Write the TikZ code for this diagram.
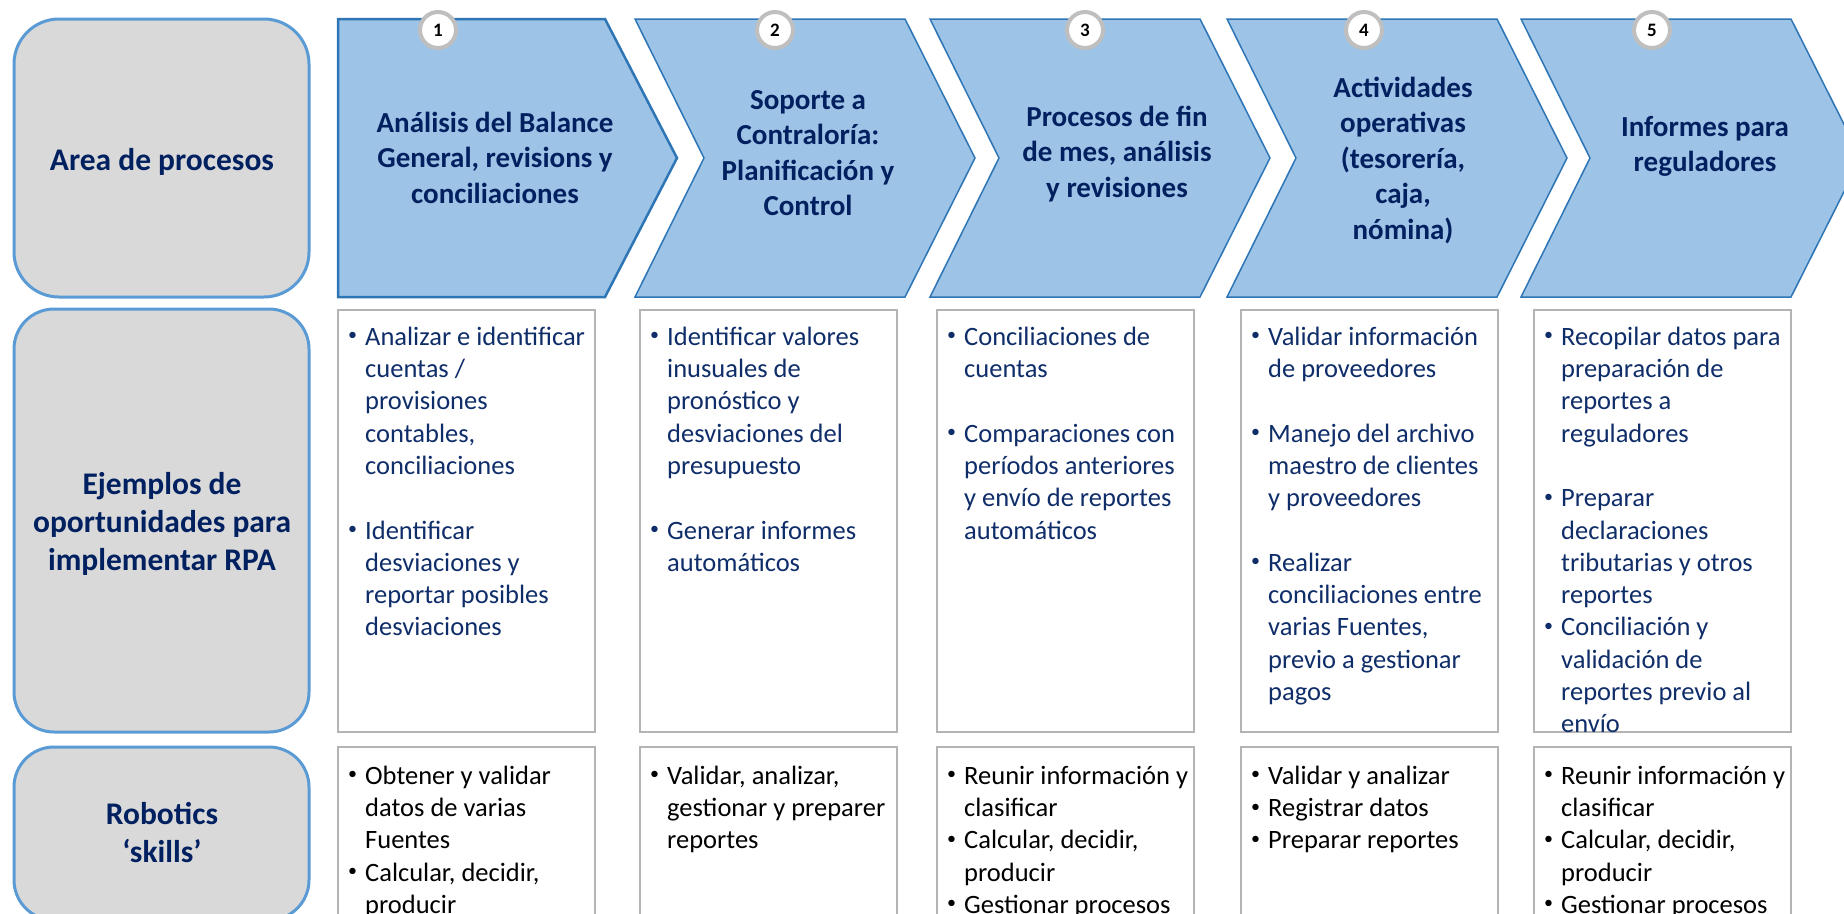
\documentclass[tikz,border=0pt]{standalone}
\usepackage{fontspec}
\setmainfont{Carlito}
\definecolor{navy}{HTML}{002060}
\definecolor{bnavy}{HTML}{0F2D69}
\definecolor{lblue}{HTML}{5B9BD5}
\definecolor{lgray}{HTML}{D9D9D9}
\definecolor{cblue}{HTML}{2E75B6}
\definecolor{cfill}{HTML}{9DC3E6}
\definecolor{bgray}{HTML}{B4B4B4}
\definecolor{ngray}{HTML}{BFBFBF}
\newcommand{\bi}{\makebox[19bp][l]{\hspace*{2bp}\raisebox{4.5bp}{\fontsize{18bp}{18bp}\selectfont\textbullet}}}
\newcommand{\ci}{\hspace*{19bp}}
\begin{document}
\begin{tikzpicture}[x=1bp,y=-1bp,
  lbox/.style={draw=lblue, fill=lgray, line width=3bp},
  chev/.style={draw=cblue, fill=cfill, line width=1.5bp, line join=miter},
  wbox/.style={draw=bgray, fill=white, line width=1.5bp},
  numc/.style={circle, draw=ngray, fill=white, line width=4bp, minimum size=36bp, inner sep=0pt, font=\fontsize{19bp}{22bp}\selectfont\bfseries},
  lbl/.style={align=center, text=navy, font=\fontsize{31.5bp}{38.3bp}\selectfont\bfseries, inner sep=0pt, anchor=north},
  hdr/.style={align=center, text=navy, font=\fontsize{29bp}{35.5bp}\selectfont\bfseries, inner sep=0pt, anchor=north},
  body/.style={align=left, text=bnavy, font=\fontsize{26.5bp}{32.3bp}\selectfont, inner sep=0pt, anchor=north west},
  skill/.style={body, text=black}]
\useasboundingbox (0,0) rectangle (1844,914);
\clip (0,0) rectangle (1844,914);

% left label boxes
\draw[lbox, rounded corners=45bp] (14,19) rectangle (309,297);
\draw[lbox, rounded corners=40bp] (14,309) rectangle (309,732);
\draw[lbox, rounded corners=40bp] (14,747) rectangle (309,920);
\node[lbl] (l1) at (162,143.2) {\strut Area de procesos};
\node[lbl] (l2) at (162,467.2) {\strut Ejemplos de\\oportunidades para\\implementar RPA};
\node[lbl] (l3) at (162,797.2) {\strut Robotics\\‘skills’};

% chevrons
\draw[chev, line width=2.5bp] (338,19) -- (605,19) -- (677,158) -- (605,297) -- (338,297) -- cycle;
\foreach \L in {635,930,1227,1521}{
  \draw[chev] (\L,19) -- ({\L+270},19) -- ({\L+340},158) -- ({\L+270},297) -- (\L,297) -- ({\L+69},158) -- cycle;
}
\node[hdr] (h1) at (495,107.2) {\strut Análisis del Balance\\General, revisions y\\conciliaciones};
\node[hdr] (h2) at (808,84.2) {\strut Soporte a\\Contraloría:\\Planificación y\\Control};
\node[hdr] (h3) at (1117,101.2) {\strut Procesos de fin\\de mes, análisis\\y revisiones};
\node[hdr] (h4) at (1403,72.2) {\strut Actividades\\operativas\\(tesorería,\\caja,\\nómina)};
\node[hdr] (h5) at (1705,111.2) {\strut Informes para\\reguladores};

% number circles
\node[numc] (n1) at (438,30) {1};
\node[numc] (n2) at (775,30) {2};
\node[numc] (n3) at (1085,30) {3};
\node[numc] (n4) at (1364,30) {4};
\node[numc] (n5) at (1652,30) {5};

% row 2 and row 3 boxes
\foreach \X in {338,640,937,1241,1534}{
  \draw[wbox] (\X,310) rectangle ({\X+257},732);
  \draw[wbox] (\X,747) rectangle ({\X+257},940);
}

% row 2 texts
\node[body] (e1) at (346,322.4) {\strut\bi Analizar e identificar\\\ci cuentas /\\\ci provisiones\\\ci contables,\\\ci conciliaciones\\\mbox{}\\\bi Identificar\\\ci desviaciones y\\\ci reportar posibles\\\ci desviaciones};
\node[body] (e2) at (648,322.4) {\strut\bi Identificar valores\\\ci inusuales de\\\ci pronóstico y\\\ci desviaciones del\\\ci presupuesto\\\mbox{}\\\bi Generar informes\\\ci automáticos};
\node[body] (e3) at (945,322.4) {\strut\bi Conciliaciones de\\\ci cuentas\\\mbox{}\\\bi Comparaciones con\\\ci períodos anteriores\\\ci y envío de reportes\\\ci automáticos};
\node[body] (e4) at (1249,322.4) {\strut\bi Validar información\\\ci de proveedores\\\mbox{}\\\bi Manejo del archivo\\\ci maestro de clientes\\\ci y proveedores\\\mbox{}\\\bi Realizar\\\ci conciliaciones entre\\\ci varias Fuentes,\\\ci previo a gestionar\\\ci pagos};
\node[body] (e5) at (1542,322.4) {\strut\bi Recopilar datos para\\\ci preparación de\\\ci reportes a\\\ci reguladores\\\mbox{}\\\bi Preparar\\\ci declaraciones\\\ci tributarias y otros\\\ci reportes\\\bi Conciliación y\\\ci validación de\\\ci reportes previo al\\\ci envío};

% row 3 texts
\node[skill] (s1) at (346,761.4) {\strut\bi Obtener y validar\\\ci datos de varias\\\ci Fuentes\\\bi Calcular, decidir,\\\ci producir};
\node[skill] (s2) at (648,761.4) {\strut\bi Validar, analizar,\\\ci gestionar y preparer\\\ci reportes};
\node[skill] (s3) at (945,761.4) {\strut\bi Reunir información y\\\ci clasificar\\\bi Calcular, decidir,\\\ci producir\\\bi Gestionar procesos};
\node[skill] (s4) at (1249,761.4) {\strut\bi Validar y analizar\\\bi Registrar datos\\\bi Preparar reportes};
\node[skill] (s5) at (1542,761.4) {\strut\bi Reunir información y\\\ci clasificar\\\bi Calcular, decidir,\\\ci producir\\\bi Gestionar procesos};
\end{tikzpicture}
\end{document}
